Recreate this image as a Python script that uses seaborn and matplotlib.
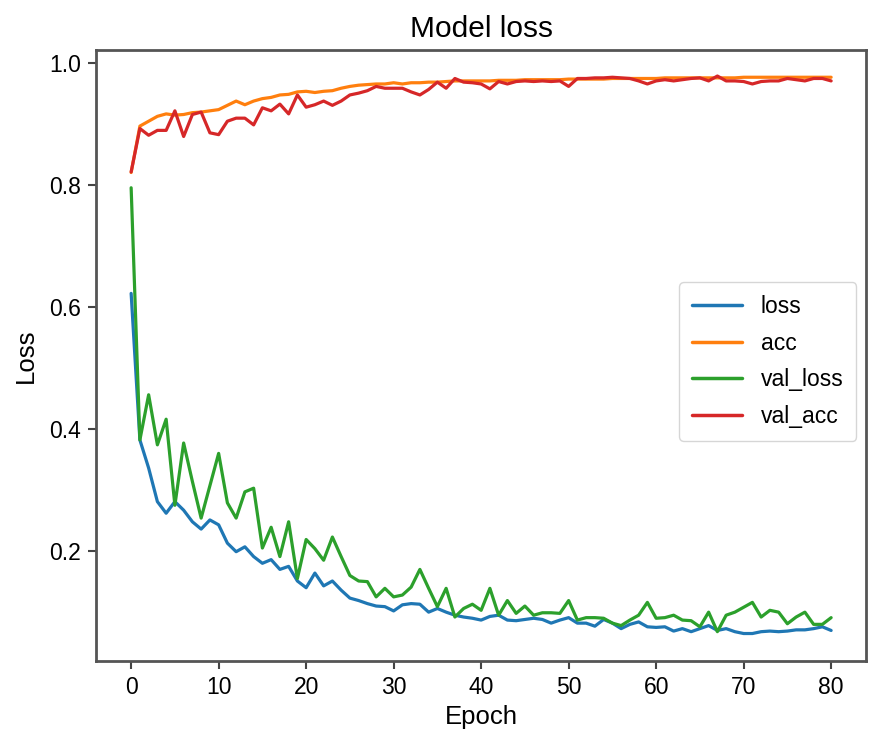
import numpy as np
import pandas as pd
import matplotlib
matplotlib.use("Agg")
import matplotlib.pyplot as plt
import seaborn as sns

epochs = list(range(81))

loss = [0.622, 0.382, 0.336, 0.281, 0.262, 0.281, 0.267, 0.248, 0.236, 0.251,
        0.243, 0.213, 0.199, 0.207, 0.191, 0.180, 0.186, 0.170, 0.175, 0.151,
        0.140, 0.164, 0.143, 0.151, 0.136, 0.123, 0.119, 0.114, 0.110, 0.109,
        0.102, 0.112, 0.114, 0.113, 0.100, 0.106, 0.100, 0.095, 0.092, 0.090,
        0.087, 0.093, 0.095, 0.087, 0.086, 0.088, 0.090, 0.088, 0.082, 0.087,
        0.091, 0.082, 0.082, 0.077, 0.088, 0.082, 0.073, 0.080, 0.084, 0.076,
        0.075, 0.076, 0.069, 0.073, 0.068, 0.073, 0.078, 0.070, 0.073, 0.068,
        0.065, 0.065, 0.068, 0.069, 0.068, 0.069, 0.071, 0.071, 0.073, 0.076,
        0.070]

acc = [0.820, 0.896, 0.904, 0.912, 0.916, 0.914, 0.915, 0.918, 0.919, 0.921,
       0.923, 0.930, 0.937, 0.931, 0.937, 0.941, 0.943, 0.947, 0.948, 0.952,
       0.953, 0.951, 0.953, 0.954, 0.958, 0.961, 0.963, 0.964, 0.965, 0.965,
       0.967, 0.965, 0.967, 0.967, 0.968, 0.968, 0.969, 0.970, 0.970, 0.970,
       0.970, 0.970, 0.971, 0.971, 0.971, 0.972, 0.972, 0.972, 0.972, 0.972,
       0.973, 0.973, 0.973, 0.973, 0.973, 0.974, 0.974, 0.974, 0.974, 0.974,
       0.974, 0.975, 0.975, 0.975, 0.975, 0.975, 0.975, 0.975, 0.975, 0.975,
       0.976, 0.976, 0.976, 0.976, 0.976, 0.976, 0.976, 0.976, 0.976, 0.976,
       0.976]

val_loss = [0.795, 0.382, 0.456, 0.374, 0.416, 0.275, 0.377, 0.314, 0.254, 0.307,
            0.360, 0.279, 0.254, 0.297, 0.303, 0.205, 0.239, 0.191, 0.248, 0.155,
            0.219, 0.204, 0.185, 0.223, 0.191, 0.160, 0.151, 0.150, 0.125, 0.139,
            0.125, 0.128, 0.141, 0.170, 0.139, 0.109, 0.139, 0.092, 0.106, 0.113,
            0.103, 0.139, 0.095, 0.119, 0.098, 0.110, 0.095, 0.099, 0.099, 0.098,
            0.119, 0.087, 0.091, 0.091, 0.090, 0.082, 0.078, 0.087, 0.095, 0.116,
            0.090, 0.091, 0.095, 0.087, 0.086, 0.076, 0.100, 0.068, 0.095, 0.100,
            0.108, 0.116, 0.092, 0.103, 0.100, 0.081, 0.092, 0.100, 0.080, 0.080,
            0.091]

val_acc = [0.821, 0.892, 0.881, 0.889, 0.889, 0.921, 0.879, 0.915, 0.919, 0.885,
           0.882, 0.904, 0.909, 0.909, 0.898, 0.926, 0.921, 0.932, 0.916, 0.947,
           0.927, 0.931, 0.937, 0.930, 0.937, 0.947, 0.950, 0.954, 0.961, 0.958,
           0.958, 0.958, 0.952, 0.947, 0.956, 0.968, 0.958, 0.974, 0.968, 0.967,
           0.965, 0.957, 0.969, 0.965, 0.969, 0.970, 0.969, 0.970, 0.969, 0.970,
           0.961, 0.974, 0.974, 0.975, 0.975, 0.976, 0.975, 0.974, 0.970, 0.965,
           0.970, 0.972, 0.970, 0.972, 0.974, 0.975, 0.970, 0.978, 0.970, 0.970,
           0.969, 0.965, 0.969, 0.970, 0.970, 0.974, 0.972, 0.970, 0.974, 0.974,
           0.970]

series_names = ["loss", "acc", "val_loss", "val_acc"]
title = "Model loss"
xlabel = "Epoch"
ylabel = "Loss"

df = pd.DataFrame({"loss": loss, "acc": acc, "val_loss": val_loss, "val_acc": val_acc},
                  index=pd.Index(epochs, name="epoch"))

sns.set_style("white")
plt.rcParams["font.family"] = ["Liberation Sans", "DejaVu Sans"]
plt.rcParams["text.color"] = "black"
plt.rcParams["axes.labelcolor"] = "black"
plt.rcParams["xtick.color"] = "black"
plt.rcParams["ytick.color"] = "black"

fig = plt.figure(figsize=(8.74, 7.32), dpi=100)
ax = fig.add_axes([0.110, 0.097, 0.881, 0.835])

palette = dict(zip(series_names, sns.color_palette("tab10", 4)))
sns.lineplot(data=df[series_names], ax=ax, dashes=False, palette=palette, linewidth=2.3)

ax.set_xlim(-4, 84)
ax.set_ylim(0.02, 1.021)
ax.set_xticks(range(0, 81, 10))
ax.set_yticks([0.2, 0.4, 0.6, 0.8, 1.0])
ax.set_yticklabels(["0.2", "0.4", "0.6", "0.8", "1.0"])

ax.set_title(title, fontsize=21.5, pad=9)
ax.set_xlabel(xlabel, fontsize=18.5, labelpad=4)
ax.set_ylabel(ylabel, fontsize=18.5, labelpad=8)
ax.tick_params(axis="both", labelsize=16.5, direction="out", length=6, width=1.5,
               colors="black", bottom=True, left=True, pad=5)
ax.tick_params(axis="both", color="#444444")
for sp in ax.spines.values():
    sp.set_color("#555555")
    sp.set_linewidth(2)

leg = ax.legend(loc="center right", fontsize=16.5, frameon=True, handlelength=2.2,
                borderpad=0.55, labelspacing=0.6, borderaxespad=0.2,
                bbox_to_anchor=(0.993, 0.49))
leg.get_frame().set_edgecolor("#cccccc")
for line in leg.get_lines():
    line.set_linewidth(2.5)

fig.savefig("out.png", dpi=100)
